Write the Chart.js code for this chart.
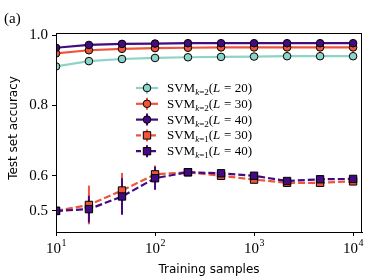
<!DOCTYPE html>
<html lang="en">
<head>
<meta charset="UTF-8">
<title>Test set accuracy vs training samples</title>
<script src="https://cdn.jsdelivr.net/npm/chart.js"></script>
<style>
  html, body { margin: 0; padding: 0; background: #fff; }
  #wrap { width: 373px; height: 280px; position: relative; }
</style>
</head>
<body>
<div id="wrap"><canvas id="accChart" width="373" height="280"></canvas></div>
<script>
// dados
var samples = [10, 21.5, 46.4, 100, 215, 464, 1000, 2154, 4642, 10000];
var k2L20 = [0.911, 0.926, 0.932, 0.935, 0.937, 0.938, 0.939, 0.940, 0.940, 0.940];
var k2L30 = [0.948, 0.957, 0.961, 0.963, 0.964, 0.965, 0.965, 0.965, 0.965, 0.965];
var k2L40 = [0.964, 0.972, 0.975, 0.976, 0.977, 0.977, 0.977, 0.977, 0.977, 0.977];
var k1L30 = [0.500, 0.517, 0.558, 0.604, 0.610, 0.600, 0.589, 0.580, 0.580, 0.584];
var k1L40 = [0.500, 0.505, 0.541, 0.593, 0.610, 0.607, 0.600, 0.585, 0.590, 0.591];
var k2L20Err = [0.003, 0.003, 0.002, 0.002, 0.002, 0.002, 0.002, 0.002, 0.002, 0.002];
var k2L30Err = [0.003, 0.003, 0.002, 0.002, 0.002, 0.002, 0.002, 0.002, 0.002, 0.002];
var k2L40Err = [0.003, 0.003, 0.002, 0.002, 0.002, 0.002, 0.002, 0.002, 0.002, 0.002];
var k1L30Err = [0.003, 0.055, 0.050, 0.025, 0.008, 0.008, 0.006, 0.006, 0.006, 0.006];
var k1L40Err = [0.003, 0.038, 0.052, 0.033, 0.008, 0.008, 0.006, 0.006, 0.006, 0.006];

var seriesNames = ['k=2|20', 'k=2|30', 'k=2|40', 'k=1|30', 'k=1|40'];
var xTicks = [10, 100, 1000, 10000];
var xTickExp = ['1', '2', '3', '4'];
var yTicks = [0.5, 0.6, 0.8, 1.0];
var xTitle = 'Training samples';
var yTitle = 'Test set accuracy';
var panelLabel = '(a)';

var teal = '#8dd3c7';
var red = '#ef553a';
var purple = '#440a80';

var series = [
  { vals: k2L20, err: k2L20Err, color: teal, shape: 'circle', dash: [] },
  { vals: k2L30, err: k2L30Err, color: red, shape: 'circle', dash: [] },
  { vals: k2L40, err: k2L40Err, color: purple, shape: 'circle', dash: [] },
  { vals: k1L30, err: k1L30Err, color: red, shape: 'rect', dash: [7, 3] },
  { vals: k1L40, err: k1L40Err, color: purple, shape: 'rect', dash: [7, 3] }
];

var datasets = series.map(function (s, i) {
  return {
    label: seriesNames[i],
    data: s.vals.map(function (v, j) { return { x: samples[j], y: v }; }),
    borderColor: s.color,
    backgroundColor: s.color,
    borderWidth: 2.2,
    borderDash: s.dash,
    pointStyle: s.shape,
    pointRadius: s.shape === 'rect' ? 5.2 : 3.8,
    pointBorderColor: '#000',
    pointBorderWidth: 1,
    pointBackgroundColor: s.color,
    tension: 0,
    clip: 0,
    order: series.length - i
  };
});

var serif = "'Liberation Serif', 'DejaVu Serif', serif";
var sans = "'DejaVu Sans', sans-serif";

var extrasPlugin = {
  id: 'extras',
  beforeDatasetsDraw: function (chart) {
    // barras de erro
    var ctx = chart.ctx, xs = chart.scales.x, ys = chart.scales.y, a = chart.chartArea;
    ctx.save();
    ctx.beginPath();
    ctx.rect(a.left, a.top, a.right - a.left, a.bottom - a.top);
    ctx.clip();
    series.forEach(function (s) {
      ctx.strokeStyle = s.color;
      ctx.lineWidth = 2;
      s.vals.forEach(function (v, j) {
        var px = xs.getPixelForValue(samples[j]);
        ctx.beginPath();
        ctx.moveTo(px, ys.getPixelForValue(v - s.err[j]));
        ctx.lineTo(px, ys.getPixelForValue(v + s.err[j]));
        ctx.stroke();
      });
    });
    ctx.restore();
  },
  afterDraw: function (chart) {
    var ctx = chart.ctx, a = chart.chartArea, xs = chart.scales.x;
    ctx.save();
    // moldura
    ctx.strokeStyle = '#000';
    ctx.lineWidth = 1;
    ctx.strokeRect(a.left + 0.5, a.top + 0.5, a.right - a.left - 1, a.bottom - a.top);

    // rótulos do eixo x: 10^n
    ctx.fillStyle = '#000';
    ctx.textBaseline = 'alphabetic';
    xTicks.forEach(function (t, i) {
      var px = xs.getPixelForValue(t);
      ctx.font = '15px ' + serif;
      var w1 = ctx.measureText('10').width;
      ctx.font = '10px ' + serif;
      var w2 = ctx.measureText(xTickExp[i]).width;
      var x0 = px - (w1 + w2) / 2;
      ctx.font = '15px ' + serif;
      ctx.textAlign = 'left';
      ctx.fillText('10', x0, a.bottom + 21);
      ctx.font = '10px ' + serif;
      ctx.fillText(xTickExp[i], x0 + w1 + 0.5, a.bottom + 14);
    });

    // títulos dos eixos
    ctx.font = '12px ' + sans;
    ctx.textAlign = 'center';
    ctx.fillText(xTitle, (a.left + a.right) / 2, 273);
    ctx.save();
    ctx.translate(17, 128);
    ctx.rotate(-Math.PI / 2);
    ctx.fillText(yTitle, 0, 0);
    ctx.restore();

    ctx.font = '15px ' + serif;
    ctx.textAlign = 'left';
    ctx.fillText(panelLabel, 4, 23);

    // legenda
    var lx = 147, ly0 = 88, dy = 15.8;
    series.forEach(function (s, i) {
      var y = ly0 + i * dy;
      ctx.strokeStyle = s.color;
      ctx.lineWidth = 2.2;
      ctx.setLineDash(s.dash.length ? [5, 2.5] : []);
      ctx.beginPath();
      ctx.moveTo(lx - 11, y);
      ctx.lineTo(lx + 11, y);
      ctx.stroke();
      ctx.setLineDash([]);
      ctx.lineWidth = 2;
      ctx.beginPath();
      ctx.moveTo(lx, y - 6);
      ctx.lineTo(lx, y + 6);
      ctx.stroke();
      ctx.fillStyle = s.color;
      ctx.strokeStyle = '#000';
      ctx.lineWidth = 1;
      ctx.beginPath();
      if (s.shape === 'circle') {
        ctx.arc(lx, y, 3.8, 0, Math.PI * 2);
      } else {
        ctx.rect(lx - 3.7, y - 3.7, 7.4, 7.4);
      }
      ctx.fill();
      ctx.stroke();

      var parts = seriesNames[i].split('|');
      ctx.fillStyle = '#000';
      var tx = 167, ty = y + 4;
      ctx.font = '13px ' + serif;
      ctx.fillText('SVM', tx, ty);
      tx += ctx.measureText('SVM').width;
      ctx.font = 'italic 9px ' + serif;
      ctx.fillText('k', tx, ty + 3);
      tx += ctx.measureText('k').width;
      ctx.font = '9px ' + serif;
      ctx.fillText(parts[0].slice(1), tx, ty + 3);
      tx += ctx.measureText(parts[0].slice(1)).width;
      ctx.font = '13px ' + serif;
      ctx.fillText('(', tx, ty);
      tx += ctx.measureText('(').width;
      ctx.font = 'italic 13px ' + serif;
      ctx.fillText('L', tx, ty);
      tx += ctx.measureText('L').width + 0.5;
      ctx.font = '13px ' + serif;
      var rest = ' = ' + parts[1] + ')';
      ctx.fillText(rest, tx, ty);
    });
    ctx.restore();
  }
};

var chart = new Chart(document.getElementById('accChart').getContext('2d'), {
  type: 'line',
  data: { datasets: datasets },
  options: {
    responsive: false,
    animation: false,
    devicePixelRatio: 1,
    layout: { padding: { top: 33, right: 11, left: 0, bottom: 0 } },
    plugins: { legend: { display: false }, tooltip: { enabled: false } },
    scales: {
      x: {
        type: 'logarithmic',
        min: 10,
        max: 12300,
        afterBuildTicks: function (scale) {
          scale.ticks = xTicks.map(function (v) { return { value: v }; });
        },
        afterFit: function (scale) { scale.height = 48; },
        ticks: { callback: function () { return ''; } },
        grid: { display: true, drawOnChartArea: false, drawTicks: true, tickLength: 4, color: '#000' },
        border: { display: true, color: '#000', width: 1 }
      },
      y: {
        type: 'linear',
        min: 0.44,
        max: 1.006,
        afterBuildTicks: function (scale) {
          scale.ticks = yTicks.map(function (v) { return { value: v }; });
        },
        afterFit: function (scale) { scale.width = 56; },
        ticks: {
          padding: 4,
          color: '#000',
          font: { family: serif, size: 15 },
          callback: function (v) { return v.toFixed(1); }
        },
        grid: { display: true, drawOnChartArea: false, drawTicks: true, tickLength: 4, color: '#000' },
        border: { display: true, color: '#000', width: 1 }
      }
    }
  },
  plugins: [extrasPlugin]
});
</script>
</body>
</html>
